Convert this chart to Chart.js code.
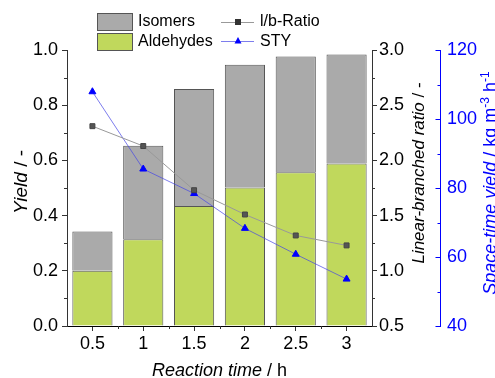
<!DOCTYPE html>
<html>
<head>
<meta charset="utf-8">
<script src="https://cdn.jsdelivr.net/npm/chart.js@4/dist/chart.umd.min.js"></script>
<style>html,body{margin:0;padding:0;background:#fff}</style>
</head>
<body>
<canvas id="myChart" width="495" height="378"></canvas>
<script>
const categories = ['0.5', '1', '1.5', '2', '2.5', '3'];
const aldehydes = [0.200, 0.314, 0.435, 0.502, 0.557, 0.589];
const isomers = [0.142, 0.339, 0.424, 0.445, 0.419, 0.395];
const lbRatio = [2.31, 2.13, 1.73, 1.51, 1.32, 1.23];
const sty = [107.9, 85.5, 78.4, 68.3, 60.8, 53.6];

const FONT = '"Liberation Sans", Arial, sans-serif';
const GRAY = '#aaaaaa';
const GREEN = '#c0d85c';
const BLUE = '#0000ff';

function richText(ctx, parts, x, y, rot, color) {
    ctx.save();
    ctx.translate(x, y);
    ctx.rotate(rot);
    ctx.fillStyle = color;
    ctx.textBaseline = 'alphabetic';
    let w = 0;
    parts.forEach(p => { ctx.font = p.font; w += ctx.measureText(p.text).width; });
    let cx = -w / 2;
    parts.forEach(p => {
        ctx.font = p.font;
        ctx.fillText(p.text, cx, p.dy || 0);
        cx += ctx.measureText(p.text).width;
    });
    ctx.restore();
}

const extras = {
    id: 'extras',
    afterDraw: (chart) => {
        const {ctx, chartArea, scales} = chart;
        const it = (s) => 'italic ' + s + 'px ' + FONT;
        const nm = (s) => s + 'px ' + FONT;

        // axis titles
        richText(ctx, [{text: 'Reaction time', font: it(18)}, {text: ' / h', font: nm(18)}],
            (chartArea.left + chartArea.right) / 2, 376, 0, '#000');
        richText(ctx, [{text: 'Yield', font: it(19), dy: 7}, {text: ' / -', font: nm(19), dy: 7}],
            19.5, 182, -Math.PI / 2, '#000');
        richText(ctx, [{text: 'Linear-branched ratio', font: it(17), dy: 6}, {text: ' / -', font: nm(17), dy: 6}],
            418, 173, -Math.PI / 2, '#000');
        richText(ctx, [
            {text: 'Space-time yield', font: it(18), dy: 6},
            {text: ' / kg m', font: nm(18), dy: 6},
            {text: '-3', font: nm(12), dy: -1},
            {text: ' h', font: nm(18), dy: 6},
            {text: '-1', font: nm(12), dy: -1}
        ], 490, 183, -Math.PI / 2, BLUE);

        // minor ticks
        ctx.save();
        ctx.lineWidth = 1;
        ctx.strokeStyle = '#333';
        ctx.beginPath();
        const y = scales.y;
        for (let v = 0.1; v < 1; v += 0.2) {
            const p = Math.round(y.getPixelForValue(v)) + 0.5;
            ctx.moveTo(chartArea.left - 3, p); ctx.lineTo(chartArea.left, p);
        }
        const r = scales.yRatio;
        for (let v = 0.75; v < 3; v += 0.5) {
            const p = Math.round(r.getPixelForValue(v)) + 0.5;
            ctx.moveTo(chartArea.right, p); ctx.lineTo(chartArea.right + 3, p);
        }
        const x = scales.x;
        const step = x.getPixelForValue(1) - x.getPixelForValue(0);
        for (let i = 1; i < categories.length; i++) {
            const p = Math.round(x.getPixelForValue(i) - step / 2) + 0.5;
            ctx.moveTo(p, chartArea.bottom); ctx.lineTo(p, chartArea.bottom + 3);
        }
        ctx.stroke();

        const s = scales.ySty;
        const ax = s.left + 0.5;
        ctx.strokeStyle = BLUE;
        ctx.beginPath();
        for (let v = 40; v <= 120; v += 10) {
            const p = Math.round(s.getPixelForValue(v)) + 0.5;
            const len = v % 20 === 0 ? 5 : 3;
            ctx.moveTo(ax - len, p); ctx.lineTo(ax, p);
        }
        ctx.stroke();
        ctx.restore();

        // legend
        ctx.save();
        ctx.lineWidth = 1;
        ctx.strokeStyle = '#555';
        ctx.fillStyle = GRAY;
        ctx.fillRect(97, 13, 35, 17); ctx.strokeRect(97.5, 13.5, 35, 17);
        ctx.fillStyle = GREEN;
        ctx.fillRect(97, 33, 35, 17); ctx.strokeRect(97.5, 33.5, 35, 17);
        ctx.font = '16px ' + FONT;
        ctx.fillStyle = '#000';
        ctx.textBaseline = 'middle';
        ctx.fillText('Isomers', 138, 22);
        ctx.fillText('Aldehydes', 138, 42);
        ctx.fillText('l/b-Ratio', 260, 22);
        ctx.fillText('STY', 260, 42);
        ctx.strokeStyle = '#999';
        ctx.beginPath(); ctx.moveTo(221, 22.5); ctx.lineTo(254, 22.5); ctx.stroke();
        ctx.fillStyle = '#333';
        ctx.fillRect(235, 19, 6, 6);
        ctx.strokeStyle = 'rgba(70,70,230,0.7)';
        ctx.beginPath(); ctx.moveTo(221, 41.5); ctx.lineTo(254, 41.5); ctx.stroke();
        ctx.fillStyle = BLUE;
        ctx.beginPath(); ctx.moveTo(238, 37); ctx.lineTo(241.5, 43.5); ctx.lineTo(234.5, 43.5); ctx.closePath(); ctx.fill();
        ctx.restore();
    }
};

new Chart(document.getElementById('myChart'), {
    type: 'bar',
    data: {
        labels: categories,
        datasets: [
            {
                type: 'line',
                label: 'l/b-Ratio',
                data: lbRatio,
                yAxisID: 'yRatio',
                order: 0,
                borderColor: '#999999',
                borderWidth: 1,
                pointStyle: 'rect',
                pointRadius: 3.5,
                pointBackgroundColor: '#555555',
                pointBorderColor: '#444444',
                pointBorderWidth: 1,
            },
            {
                type: 'line',
                label: 'STY',
                data: sty,
                yAxisID: 'ySty',
                order: 0,
                borderColor: 'rgba(70,70,230,0.7)',
                borderWidth: 1,
                pointStyle: 'triangle',
                pointRadius: 4,
                pointBackgroundColor: BLUE,
                pointBorderColor: BLUE,
                pointBorderWidth: 1,
            },
            {
                label: 'Aldehydes',
                data: aldehydes,
                yAxisID: 'y',
                order: 1,
                stack: 's',
                backgroundColor: GREEN,
                borderColor: '#555555',
                borderWidth: 1,
                barPercentage: 0.79,
                categoryPercentage: 1,
            },
            {
                label: 'Isomers',
                data: isomers,
                yAxisID: 'y',
                order: 1,
                stack: 's',
                backgroundColor: GRAY,
                borderColor: '#555555',
                borderWidth: 1,
                barPercentage: 0.79,
                categoryPercentage: 1,
            }
        ]
    },
    options: {
        responsive: false,
        animation: false,
        layout: {padding: {top: 50, left: 0, right: 0, bottom: 0}},
        plugins: {legend: {display: false}, tooltip: {enabled: false}},
        scales: {
            x: {
                stacked: true,
                offset: true,
                afterFit: (s) => { s.height = 52; },
                grid: {drawOnChartArea: false, offset: false, tickLength: 5, color: '#333'},
                border: {color: '#000', width: 1},
                ticks: {color: '#000', font: {size: 18, family: FONT}, padding: 2}
            },
            y: {
                position: 'left',
                stacked: true,
                min: 0,
                max: 1,
                afterFit: (s) => { s.width = 67; },
                grid: {drawOnChartArea: false, tickLength: 5, color: '#333'},
                border: {color: '#333', width: 1},
                ticks: {
                    stepSize: 0.2,
                    color: '#000',
                    font: {size: 18, family: FONT},
                    padding: 4,
                    callback: (v) => v.toFixed(1)
                }
            },
            yRatio: {
                position: 'right',
                weight: 0,
                min: 0.5,
                max: 3,
                afterFit: (s) => { s.width = 68; },
                grid: {drawOnChartArea: false, tickLength: 5, color: '#333'},
                border: {color: '#333', width: 1},
                ticks: {
                    stepSize: 0.5,
                    color: '#000',
                    font: {size: 18, family: FONT},
                    padding: 2,
                    callback: (v) => v.toFixed(1)
                }
            },
            ySty: {
                position: 'right',
                weight: 1,
                min: 40,
                max: 120,
                afterFit: (s) => { s.width = 55; },
                grid: {drawOnChartArea: false, drawTicks: false},
                border: {color: BLUE, width: 1},
                ticks: {
                    stepSize: 20,
                    color: BLUE,
                    font: {size: 18, family: FONT},
                    padding: 7
                }
            }
        }
    },
    plugins: [extras]
});
</script>
</body>
</html>
